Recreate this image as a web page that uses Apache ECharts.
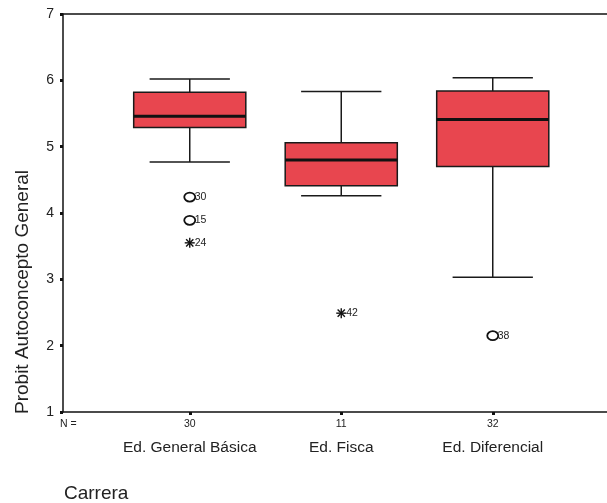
<!DOCTYPE html>
<html>
<head>
<meta charset="utf-8">
<script src="https://cdn.jsdelivr.net/npm/echarts@6/dist/echarts.min.js"></script>
<style>html,body{margin:0;padding:0;background:#fff}#c{width:607px;height:503px}</style>
</head>
<body>
<div id="c"></div>
<script>
const categories = ['Ed. General Básica', 'Ed. Fisca', 'Ed. Diferencial'];
const counts = ['30', '11', '32'];
const lows    = [4.77, 4.26, 3.03];
const q1s     = [5.29, 4.41, 4.70];
const medians = [5.46, 4.80, 5.41];
const q3s     = [5.82, 5.06, 5.84];
const highs   = [6.02, 5.83, 6.04];
const outlierCat  = [0, 0, 0, 1, 2];
const outlierVal  = [4.24, 3.89, 3.55, 2.49, 2.15];
const outlierId   = ['30', '15', '24', '42', '38'];
const outlierType = ['o', 'o', '*', '*', 'o'];
const yTicks = [1, 2, 3, 4, 5, 6, 7];

const FONT = '"Liberation Sans", Arial, sans-serif';
const boxData = categories.map((c, i) => [i, lows[i], q1s[i], medians[i], q3s[i], highs[i]]);
const outData = outlierVal.map((v, i) => [outlierCat[i], v, outlierId[i], outlierType[i]]);

const chart = echarts.init(document.getElementById('c'));
chart.setOption({
  animation: false,
  backgroundColor: '#fff',
  grid: [
    {left: 63, right: 0, top: 14, bottom: 91},
    {left: 114, right: 38.5, top: 14, bottom: 91}
  ],
  xAxis: [
    {gridIndex: 0, type: 'value', min: 0, max: 1, position: 'bottom',
     axisLine: {show: true, lineStyle: {color: '#111', width: 1.5}},
     axisTick: {show: false}, axisLabel: {show: false}, splitLine: {show: false}},
    {gridIndex: 0, type: 'value', min: 0, max: 1, position: 'top',
     axisLine: {show: true, lineStyle: {color: '#111', width: 1.5}},
     axisTick: {show: false}, axisLabel: {show: false}, splitLine: {show: false}},
    {gridIndex: 1, type: 'category', data: categories, position: 'bottom',
     axisLine: {show: false},
     axisTick: {show: true, alignWithLabel: true, length: 3, lineStyle: {color: '#111', width: 3}},
     axisLabel: {
       margin: 6, interval: 0,
       formatter: (v, i) => '{n|' + counts[i] + '}\n{c|' + v + '}',
       rich: {
         n: {fontSize: 10.5, lineHeight: 12, color: '#222', fontFamily: FONT},
         c: {fontSize: 15.5, lineHeight: 36, color: '#222', fontFamily: FONT}
       }
     },
     splitLine: {show: false}}
  ],
  yAxis: [
    {gridIndex: 0, type: 'value', min: 1, max: 7, interval: 1,
     axisLine: {show: true, lineStyle: {color: '#111', width: 1.5}},
     axisTick: {show: true, length: 3, lineStyle: {color: '#111', width: 3}},
     axisLabel: {fontSize: 14, color: '#222', margin: 9, fontFamily: FONT,
       customValues: yTicks},
     splitLine: {show: false}},
    {gridIndex: 1, type: 'value', min: 1, max: 7, interval: 1, show: false}
  ],
  graphic: [
    {type: 'text', x: 23, y: 292, rotation: Math.PI / 2,
     style: {text: 'Probit Autoconcepto General', fontSize: 19, fill: '#222', fontFamily: FONT,
       align: 'center', verticalAlign: 'middle'}},
    {type: 'text', x: 60, y: 424, style: {text: 'N =', fontSize: 10.5, fill: '#222', fontFamily: FONT,
       verticalAlign: 'middle'}},
    {type: 'text', x: 64, y: 494, style: {text: 'Carrera', fontSize: 19, fill: '#222', fontFamily: FONT,
       verticalAlign: 'middle'}}
  ],
  series: [
    {
      type: 'custom', xAxisIndex: 2, yAxisIndex: 1,
      data: boxData,
      encode: {x: 0, y: [1, 2, 3, 4, 5]},
      renderItem: function (params, api) {
        const i = api.value(0);
        const xc = api.coord([i, 1])[0];
        const Y = v => api.coord([i, v])[1];
        const band = api.size([1, 0])[0];
        const bw = band * 0.74, cw = band * 0.53;
        const lo = Y(api.value(1)), a = Y(api.value(2)), m = Y(api.value(3)), b = Y(api.value(4)), hi = Y(api.value(5));
        const ls = {stroke: '#1a1a1a', lineWidth: 1.5};
        return {type: 'group', children: [
          {type: 'line', shape: {x1: xc, y1: hi, x2: xc, y2: b}, style: ls},
          {type: 'line', shape: {x1: xc, y1: a, x2: xc, y2: lo}, style: ls},
          {type: 'line', shape: {x1: xc - cw / 2, y1: hi, x2: xc + cw / 2, y2: hi}, style: ls},
          {type: 'line', shape: {x1: xc - cw / 2, y1: lo, x2: xc + cw / 2, y2: lo}, style: ls},
          {type: 'rect', shape: {x: xc - bw / 2, y: b, width: bw, height: a - b},
           style: {fill: '#e8464f', stroke: '#1a1a1a', lineWidth: 1.5}},
          {type: 'line', shape: {x1: xc - bw / 2, y1: m, x2: xc + bw / 2, y2: m},
           style: {stroke: '#111', lineWidth: 3}}
        ]};
      }
    },
    {
      type: 'custom', xAxisIndex: 2, yAxisIndex: 1,
      data: outData,
      encode: {x: 0, y: 1},
      renderItem: function (params, api) {
        const p = api.coord([api.value(0), api.value(1)]);
        const d = outData[params.dataIndex];
        const x = p[0], y = p[1];
        const kids = [];
        if (d[3] === 'o') {
          kids.push({type: 'ellipse', shape: {cx: x, cy: y, rx: 5.5, ry: 4.5},
            style: {fill: '#fff', stroke: '#111', lineWidth: 1.8}});
        } else {
          const r = 5, s = {stroke: '#111', lineWidth: 1.4};
          kids.push({type: 'line', shape: {x1: x - r, y1: y, x2: x + r, y2: y}, style: s});
          kids.push({type: 'line', shape: {x1: x, y1: y - r, x2: x, y2: y + r}, style: s});
          kids.push({type: 'line', shape: {x1: x - 3.6, y1: y - 3.6, x2: x + 3.6, y2: y + 3.6}, style: s});
          kids.push({type: 'line', shape: {x1: x + 3.6, y1: y - 3.6, x2: x - 3.6, y2: y + 3.6}, style: s});
        }
        kids.push({type: 'text', x: x + 5, y: y,
          style: {text: d[2], fontSize: 10.5, fill: '#222', fontFamily: FONT, verticalAlign: 'middle', align: 'left'}});
        return {type: 'group', children: kids};
      }
    }
  ]
});
</script>
</body>
</html>
